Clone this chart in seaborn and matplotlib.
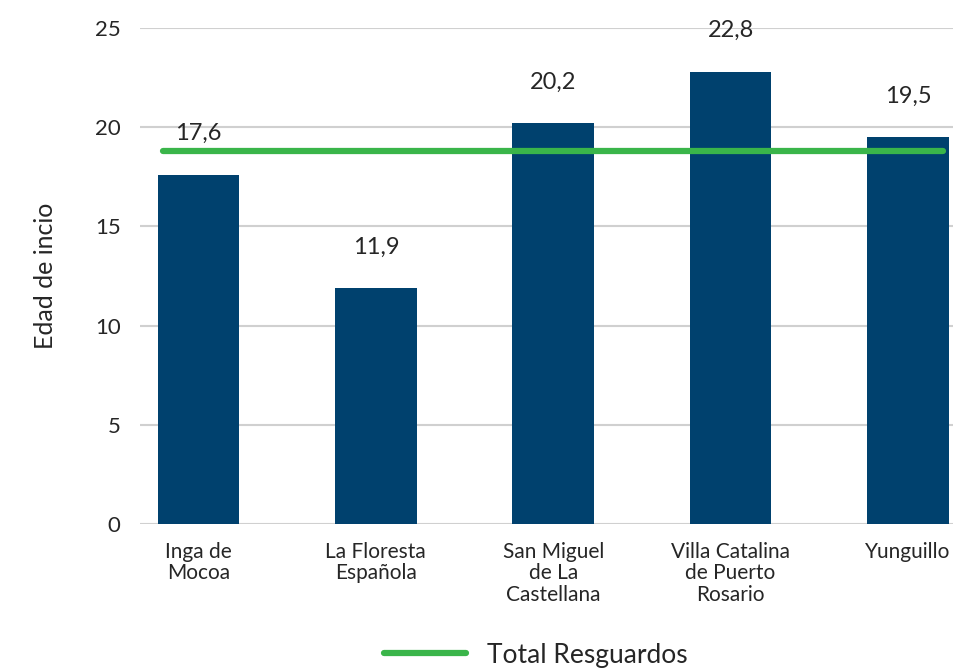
import matplotlib
matplotlib.use("Agg")
import matplotlib.pyplot as plt
import seaborn as sns
import pandas as pd

# data
categories = ["Inga de\nMocoa", "La Floresta\nEspañola", "San Miguel\nde La\nCastellana",
              "Villa Catalina\nde Puerto\nRosario", "Yunguillo"]
edad_inicio = [17.6, 11.9, 20.2, 22.8, 19.5]
total_resguardos = 18.8
y_ticks = [0, 5, 10, 15, 20, 25]

BAR_COLOR = "#00416E"
LINE_COLOR = "#3AB54A"
TEXT_COLOR = "#262626"

sns.set_theme(style="white")
plt.rcParams["font.family"] = ["Lato", "DejaVu Sans"]

df = pd.DataFrame({"resguardo": categories, "edad": edad_inicio})

fig = plt.figure(figsize=(9.54, 6.68), dpi=100)
ax = fig.add_axes([140 / 954, 1 - 524 / 668, 1 - 140 / 954, (524 - 28) / 668])

sns.barplot(data=df, x="resguardo", y="edad", color=BAR_COLOR, width=0.46,
            saturation=1, linewidth=0, ax=ax, zorder=3)

# value labels with comma decimal
labels = [f"{v:.1f}".replace(".", ",") for v in edad_inicio]
ax.bar_label(ax.containers[0], labels=labels, padding=22, fontsize=17, color=TEXT_COLOR)

# total line spanning the bars
x0 = ax.patches[0].get_x() + 0.03
x1 = ax.patches[-1].get_x() + ax.patches[-1].get_width() - 0.03
total_line, = ax.plot([x0, x1], [total_resguardos, total_resguardos], color=LINE_COLOR,
                      lw=4.5, solid_capstyle="round", zorder=4, label="Total Resguardos")

ax.set_ylim(0, 25)
ax.set_yticks(y_ticks)
ax.set_xlim(-0.33, 4.26)
ax.yaxis.grid(True, color="#D0D0D0", lw=1.5, zorder=0)
ax.xaxis.grid(False)
sns.despine(ax=ax, left=True, bottom=True, right=True, top=True)

ax.tick_params(axis="y", length=0, pad=14, labelsize=16, labelcolor=TEXT_COLOR)
ax.tick_params(axis="x", length=0, pad=13, labelsize=15, labelcolor=TEXT_COLOR)
for t in ax.get_xticklabels():
    t.set_verticalalignment("top")
    t.set_linespacing(1.08)

ax.set_xlabel("")
ax.set_ylabel("Edad de incio", fontsize=18, color=TEXT_COLOR, labelpad=27)

fig.legend(handles=[total_line], loc="center", bbox_to_anchor=(536 / 954, 1 - 655 / 668),
           frameon=False, fontsize=19, handlelength=3.1, handletextpad=0.8,
           labelcolor=TEXT_COLOR)

fig.savefig("out.png", dpi=100)
